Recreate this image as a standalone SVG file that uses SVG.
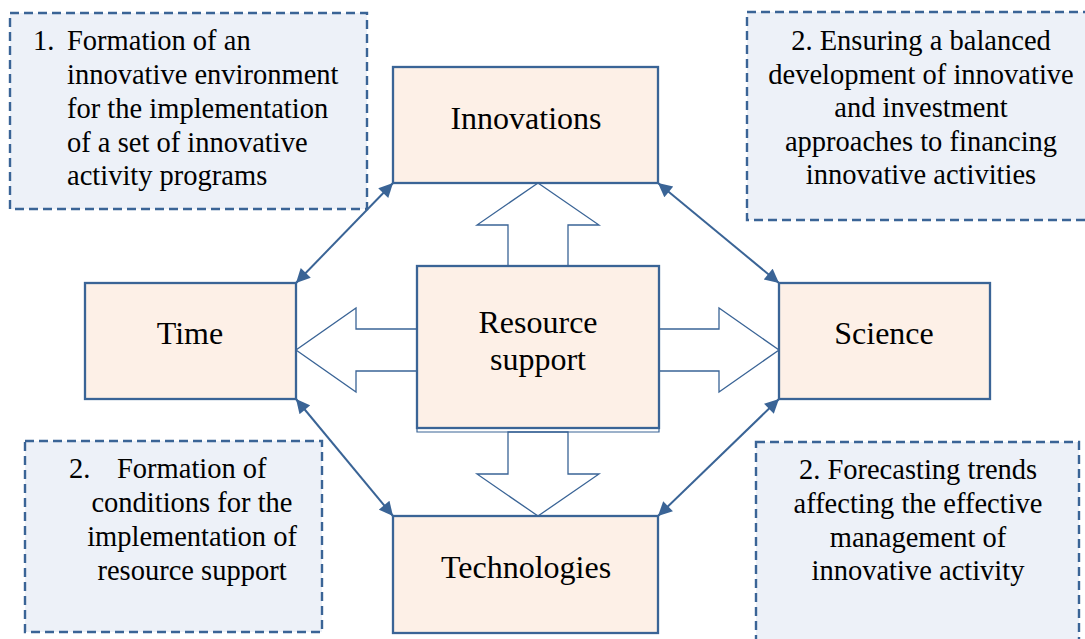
<svg xmlns="http://www.w3.org/2000/svg" width="1085" height="639" viewBox="0 0 1085 639">
<defs>
<style>
.node{fill:#FDF0E7;stroke:#3A6496;stroke-width:2.3}
.note{fill:#EDF1F8;stroke:#3A6496;stroke-width:2.4;stroke-dasharray:9 5}
.blk{fill:#FFFFFF;stroke:#3A6496;stroke-width:1.3}
.con{stroke:#3A6496;stroke-width:2;fill:none;marker-start:url(#ah);marker-end:url(#ah)}
text{font-family:'Liberation Serif','Times New Roman',serif;fill:#000}
.lbl{font-size:32px;text-anchor:middle}
.txt{font-size:28.5px}
.c{text-anchor:middle}
</style>
<marker id="ah" viewBox="0 0 10 10" refX="10" refY="5" markerWidth="8" markerHeight="7" markerUnits="strokeWidth" orient="auto-start-reverse">
<path d="M0,0 L10,5 L0,10 Z" fill="#3A6496"/>
</marker>
</defs>
<rect width="1085" height="639" fill="#FFFFFF"/>

<g id="note1">
<rect class="note" x="10" y="13" width="357" height="196"/>
<text class="txt" x="33" y="50">1.</text>
<text class="txt" x="67" y="50">Formation of an</text>
<text class="txt" x="67" y="84">innovative environment</text>
<text class="txt" x="67" y="118">for the implementation</text>
<text class="txt" x="67" y="152">of a set of innovative</text>
<text class="txt" x="67" y="185">activity programs</text>
</g>

<g id="note2">
<rect class="note" x="747" y="12" width="345" height="208"/>
<text class="txt c" x="921" y="50">2. Ensuring a balanced</text>
<text class="txt c" x="921" y="84">development of innovative</text>
<text class="txt c" x="921" y="117">and investment</text>
<text class="txt c" x="921" y="151">approaches to financing</text>
<text class="txt c" x="921" y="184">innovative activities</text>
</g>

<g id="note3">
<rect class="note" x="25" y="441" width="297" height="191"/>
<text class="txt" x="69" y="478">2.</text>
<text class="txt" x="117" y="478">Formation of</text>
<text class="txt c" x="192" y="512">conditions for the</text>
<text class="txt c" x="192" y="546">implementation of</text>
<text class="txt c" x="192" y="580">resource support</text>
</g>

<g id="note4">
<rect class="note" x="756" y="442" width="323" height="205"/>
<text class="txt c" x="918" y="479">2. Forecasting trends</text>
<text class="txt c" x="918" y="513">affecting the effective</text>
<text class="txt c" x="918" y="547">management of</text>
<text class="txt c" x="918" y="580">innovative activity</text>
</g>

<g id="connectors">
<polygon class="blk" points="508,266 508,225 477,225 538,183 599,225 568,225 568,266"/>
<polygon class="blk" points="417,329 356,329 356,308 296,350 356,392 356,371 417,371"/>
<polygon class="blk" points="659,329 719,329 719,308 779,350 719,392 719,371 659,371"/>
<polygon class="blk" points="508,432 508,474 477,474 538,516 599,474 568,474 568,432"/>
<line class="con" x1="393" y1="183" x2="296" y2="283"/>
<line class="con" x1="658" y1="183" x2="779" y2="283"/>
<line class="con" x1="296" y1="399" x2="393" y2="516"/>
<line class="con" x1="779" y1="399" x2="658" y2="516"/>
</g>

<g id="innovations">
<rect class="node" x="393" y="67" width="265" height="116"/>
<text class="lbl" x="526" y="129">Innovations</text>
</g>

<g id="time">
<rect class="node" x="85" y="283" width="211" height="116"/>
<text class="lbl" x="190" y="344">Time</text>
</g>

<g id="science">
<rect class="node" x="779" y="283" width="211" height="116"/>
<text class="lbl" x="884" y="344">Science</text>
</g>

<g id="resource">
<polyline points="417,428 417,432 659,432 659,428" fill="none" stroke="#3A6496" stroke-width="1.2"/>
<rect class="node" x="417" y="266" width="242" height="162"/>
<text class="lbl" x="538" y="333">Resource</text>
<text class="lbl" x="538" y="370">support</text>
</g>

<g id="technologies">
<rect class="node" x="393" y="516" width="265" height="117"/>
<text class="lbl" x="526" y="578">Technologies</text>
</g>
</svg>
